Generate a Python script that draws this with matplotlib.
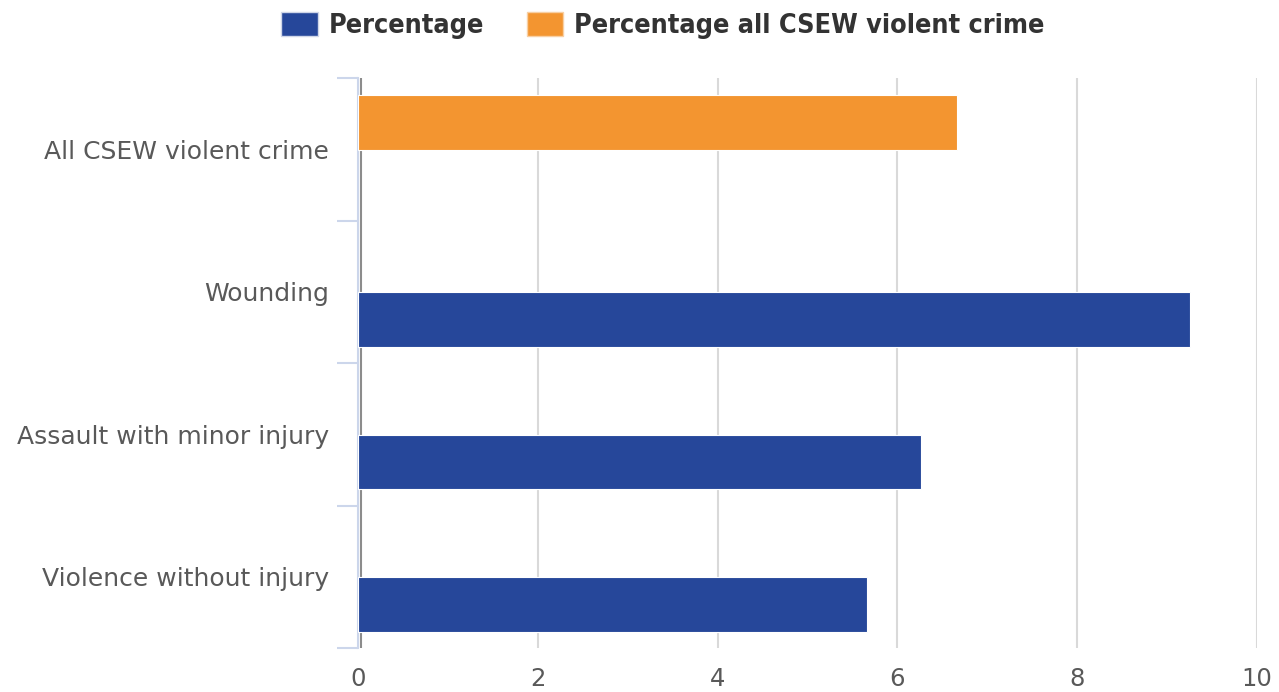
import matplotlib.pyplot as plt
import matplotlib.transforms as mtransforms
from matplotlib.patches import Patch
import numpy as np

plt.rcParams["font.family"] = ["DejaVu Sans"]

# 各カテゴリの割合（%）
categories = ["All CSEW violent crime", "Wounding",
              "Assault with minor injury", "Violence without injury"]
percentage = [None, 9.26, 6.26, 5.66]
percentage_all = [6.66, None, None, None]
x_ticks = [0, 2, 4, 6, 8, 10]

blue = "#26479a"
orange = "#f39530"

fig = plt.figure(figsize=(12.79, 6.92), dpi=100)
ax = fig.add_axes([358 / 1279, 1 - 648 / 692, 899 / 1279, 570 / 692])

y = np.arange(len(categories))
h = 0.385
# 系列ごとに値のある所だけ棒を描く
for i, v in enumerate(percentage_all):
    if v is not None:
        ax.barh(y[i] - 0.19, v, height=h, color=orange, edgecolor="white", linewidth=0.8, zorder=3)
for i, v in enumerate(percentage):
    if v is not None:
        ax.barh(y[i] + 0.195, v, height=h, color=blue, edgecolor="white", linewidth=0.8, zorder=3)

ax.set_xlim(0, 10)
ax.set_ylim(len(categories) - 0.5, -0.5)
ax.set_xticks(x_ticks)
ax.set_xticklabels([str(t) for t in x_ticks])
ax.set_yticks(y)
ax.set_yticklabels(categories)
ax.set_yticks(np.arange(len(categories) + 1) - 0.5, minor=True)

ax.tick_params(axis="x", length=0, pad=14, labelsize=17.5, labelcolor="#595959")
ax.tick_params(axis="y", which="major", length=0, pad=21, labelsize=18, labelcolor="#595959")
ax.tick_params(axis="y", which="minor", length=15, width=1.5, color="#ccd6eb")

ax.set_axisbelow(True)
ax.xaxis.grid(True, color="#d9d9d9", linewidth=1.5)
for s in ["top", "right", "bottom"]:
    ax.spines[s].set_visible(False)
ax.spines["left"].set_color("#ccd6eb")
ax.spines["left"].set_linewidth(1.5)
# 0 の基準線（軸線の少し右）
shift = mtransforms.offset_copy(ax.get_xaxis_transform(), fig=fig, x=2.5, units="dots")
ax.plot([0, 0], [0, 1], transform=shift, color="#8c8c8c", linewidth=1.5, zorder=2.6)

handles = [Patch(facecolor=blue, edgecolor="#cfd6e8", label="Percentage"),
           Patch(facecolor=orange, edgecolor="#f8cfa3", label="Percentage all CSEW violent crime")]
fig.legend(handles=handles, loc="center", bbox_to_anchor=(663 / 1279, 1 - 25.5 / 692),
           ncol=2, frameon=False,
           prop={"family": "DejaVu Sans", "weight": "bold", "stretch": "condensed", "size": 19.4},
           handlelength=1.35, handleheight=1.0, handletextpad=0.4, columnspacing=1.6,
           labelcolor="#333333")

fig.savefig("out.png", dpi=100)
